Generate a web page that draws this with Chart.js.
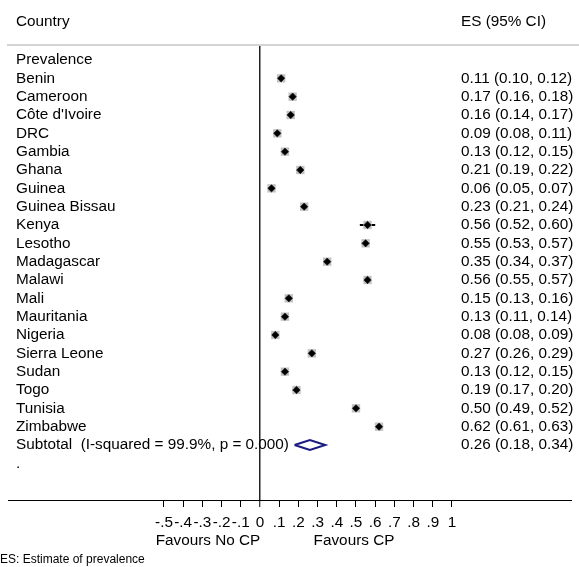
<!DOCTYPE html>
<html>
<head>
<meta charset="utf-8">
<script src="https://cdn.jsdelivr.net/npm/chart.js@4.4.1/dist/chart.umd.min.js"></script>
<style>
  html, body { margin: 0; padding: 0; background: #fff; }
  #wrap { width: 579px; height: 567px; }
</style>
</head>
<body>
<div id="wrap"><canvas id="forest" width="579" height="567"></canvas></div>
<script>
// Study rows (country, estimate, lower / upper 95% CI)
const countries = ["Benin", "Cameroon", "Côte d'Ivoire", "DRC", "Gambia", "Ghana", "Guinea",
  "Guinea Bissau", "Kenya", "Lesotho", "Madagascar", "Malawi", "Mali", "Mauritania",
  "Nigeria", "Sierra Leone", "Sudan", "Togo", "Tunisia", "Zimbabwe"];
const estimates = [0.11, 0.17, 0.16, 0.09, 0.13, 0.21, 0.06, 0.23, 0.56, 0.55, 0.35, 0.56,
  0.15, 0.13, 0.08, 0.27, 0.13, 0.19, 0.50, 0.62];
const lowerCI = [0.10, 0.16, 0.14, 0.08, 0.12, 0.19, 0.05, 0.21, 0.52, 0.53, 0.34, 0.55,
  0.13, 0.11, 0.08, 0.26, 0.12, 0.17, 0.49, 0.61];
const upperCI = [0.12, 0.18, 0.17, 0.11, 0.15, 0.22, 0.07, 0.24, 0.60, 0.57, 0.37, 0.57,
  0.16, 0.14, 0.09, 0.29, 0.15, 0.20, 0.52, 0.63];

// Pooled estimate
const subtotalLabel = "Subtotal  (I-squared = 99.9%, p = 0.000)";
const pooled = [0.26, 0.18, 0.34]; // estimate, lower, upper

// Axis ticks
const tickValues = [-0.5, -0.4, -0.3, -0.2, -0.1, 0, 0.1, 0.2, 0.3, 0.4, 0.5, 0.6, 0.7, 0.8, 0.9, 1];

const FONT = "'Liberation Sans', Arial, Helvetica, sans-serif";
const TEXT_SIZE = 15.3;
Chart.defaults.font.family = FONT;
Chart.defaults.font.size = TEXT_SIZE;
Chart.defaults.color = '#000';

// row index: 0 = group heading, 1..n = studies, n+1 = subtotal, n+2 = spacer
const studyRows = countries.map((_, i) => i + 1);
const subtotalRow = countries.length + 1;

const fmt = v => v.toFixed(2);
const esText = (e, l, h) => `${fmt(e)} (${fmt(l)}, ${fmt(h)})`;

const tickLabel = v => {
  const r = Math.round(v * 10) / 10;
  if (r === 0) return '0';
  if (r === 1) return '1';
  const s = Math.abs(r).toFixed(1).replace(/^0/, '');
  return (r < 0 ? '-' : '') + s;
};

// confidence-interval whiskers
const whiskers = {
  id: 'whiskers',
  beforeDatasetsDraw(chart) {
    const { ctx, scales: { x, y } } = chart;
    ctx.save();
    ctx.strokeStyle = '#000';
    ctx.lineWidth = 2;
    countries.forEach((_, i) => {
      const py = y.getPixelForValue(studyRows[i]);
      ctx.beginPath();
      ctx.moveTo(x.getPixelForValue(lowerCI[i]), py);
      ctx.lineTo(x.getPixelForValue(upperCI[i]), py);
      ctx.stroke();
    });
    ctx.restore();
  }
};

// text columns, rules and footnotes
const textColumns = {
  id: 'textColumns',
  afterDraw(chart) {
    const { ctx, chartArea, scales: { y } } = chart;
    ctx.save();
    ctx.fillStyle = '#000';
    ctx.textBaseline = 'middle';
    ctx.font = `${TEXT_SIZE}px ${FONT}`;
    const leftX = 16, rightX = 461;

    // header
    ctx.fillText('Country', leftX, 22);
    ctx.fillText('ES (95% CI)', rightX, 22);

    // header rule
    ctx.strokeStyle = '#d4d4d4';
    ctx.lineWidth = 2;
    ctx.beginPath();
    ctx.moveTo(7, chartArea.top);
    ctx.lineTo(579, chartArea.top);
    ctx.stroke();

    ctx.fillText('Prevalence', leftX, y.getPixelForValue(0));
    countries.forEach((c, i) => {
      const py = y.getPixelForValue(studyRows[i]);
      ctx.fillText(c, leftX, py);
      ctx.fillText(esText(estimates[i], lowerCI[i], upperCI[i]), rightX, py);
    });
    const sy = y.getPixelForValue(subtotalRow);
    ctx.fillText(subtotalLabel, leftX, sy);
    ctx.fillText(esText(pooled[0], pooled[1], pooled[2]), rightX, sy);
    ctx.fillText('.', leftX, y.getPixelForValue(subtotalRow + 1));

    // direction labels under the axis
    ctx.textAlign = 'center';
    ctx.fillText('Favours No CP', 208, 541);
    ctx.fillText('Favours CP', 354, 541);

    ctx.textAlign = 'left';
    ctx.font = `12px ${FONT}`;
    ctx.fillText('ES: Estimate of prevalence', 0, 560);
    ctx.restore();
  }
};

const diamondHalf = 0.27;

new Chart(document.getElementById('forest'), {
  type: 'scatter',
  data: {
    datasets: [
      {
        // point estimates (drawn on top)
        data: estimates.map((e, i) => ({ x: e, y: studyRows[i] })),
        pointStyle: 'rectRot',
        pointRadius: 3.7,
        pointHoverRadius: 3.7,
        backgroundColor: '#000',
        borderColor: '#000',
        borderWidth: 0.5
      },
      {
        // study weight boxes
        data: estimates.map((e, i) => ({ x: e, y: studyRows[i] })),
        pointStyle: 'rect',
        pointRadius: 5.9,
        pointHoverRadius: 5.9,
        backgroundColor: '#c2c2c2',
        borderWidth: 0
      },
      {
        // pooled estimate diamond
        data: [
          { x: pooled[1], y: subtotalRow },
          { x: pooled[0], y: subtotalRow - diamondHalf },
          { x: pooled[2], y: subtotalRow },
          { x: pooled[0], y: subtotalRow + diamondHalf },
          { x: pooled[1], y: subtotalRow }
        ],
        showLine: true,
        pointRadius: 0,
        borderColor: '#1a1a80',
        borderWidth: 2,
        fill: false
      }
    ]
  },
  options: {
    responsive: false,
    animation: false,
    devicePixelRatio: 1,
    layout: { padding: { top: 45, left: 8, right: 8, bottom: 0 } },
    plugins: { legend: { display: false }, tooltip: { enabled: false } },
    scales: {
      x: {
        type: 'linear',
        min: -1.3125,
        max: 1.6198,
        afterBuildTicks: scale => { scale.ticks = tickValues.map(v => ({ value: v })); },
        afterFit: scale => { scale.height = 67; },
        ticks: {
          autoSkip: false,
          maxRotation: 0,
          padding: 7,
          font: { size: TEXT_SIZE },
          callback: v => tickLabel(v)
        },
        grid: {
          drawOnChartArea: true,
          color: c => (c.tick && Math.abs(c.tick.value) < 1e-9) ? '#222' : 'rgba(0,0,0,0)',
          lineWidth: c => (c.tick && Math.abs(c.tick.value) < 1e-9) ? 1.5 : 1,
          tickColor: '#000',
          tickLength: 7,
          tickWidth: 1
        },
        border: { display: true, color: '#000', width: 1 }
      },
      y: {
        type: 'linear',
        display: false,
        reverse: true,
        min: -0.818,
        max: 24.0
      }
    }
  },
  plugins: [whiskers, textColumns]
});
</script>
</body>
</html>
